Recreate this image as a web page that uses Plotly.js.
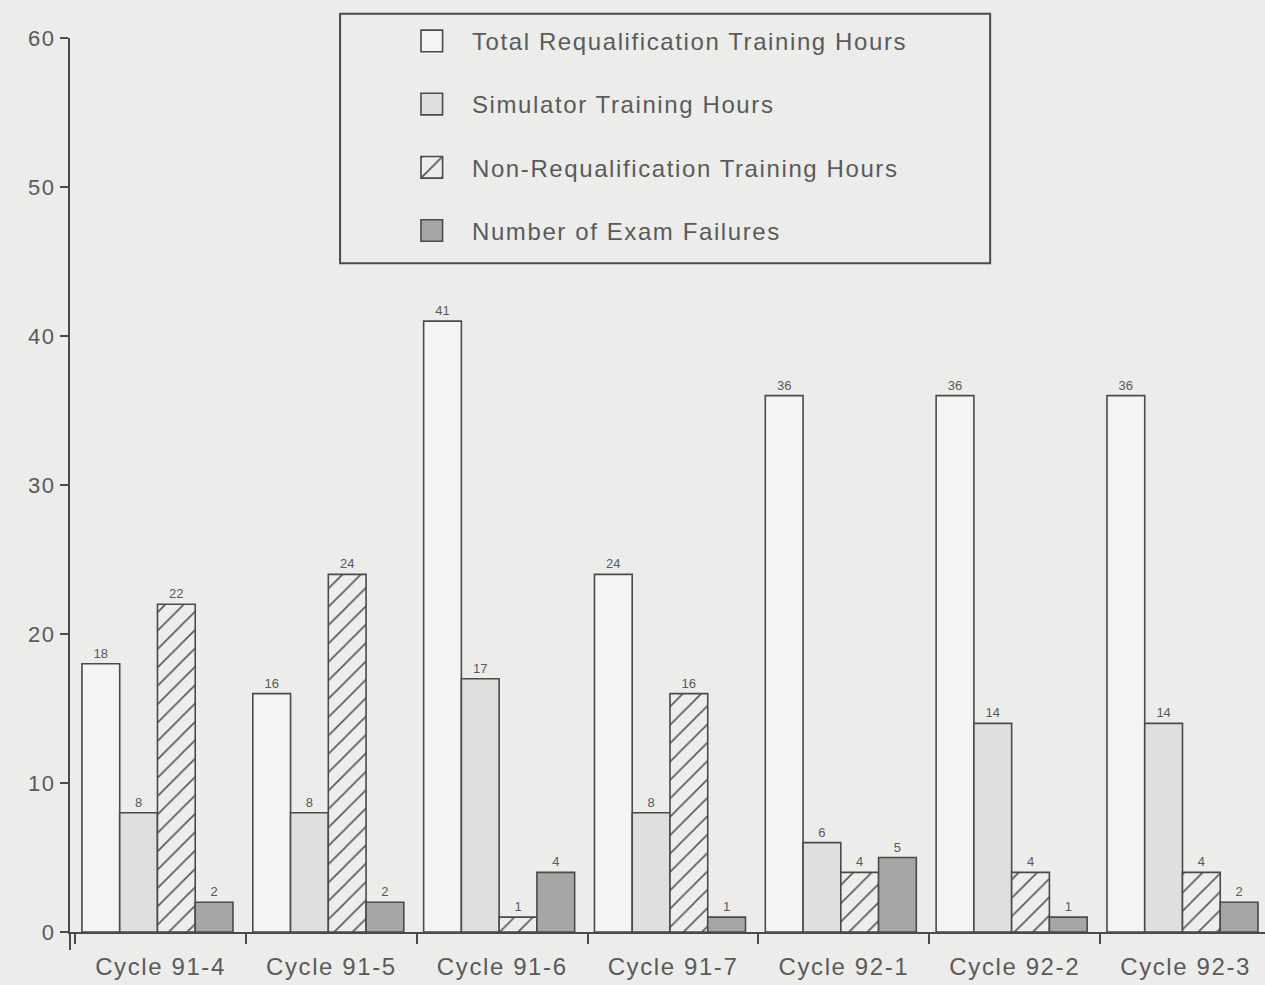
<!DOCTYPE html>
<html>
<head>
<meta charset="utf-8">
<script src="https://cdn.plot.ly/plotly-3.0.1.min.js"></script>
<style>
html,body{margin:0;padding:0;background:#ececea;}
.legendtext, .xtick text, .ytick text { letter-spacing: 1.6px; }
.legend .legendpoints { transform: translate(-34px, 0) scale(1.8); }
.legend .legendpoints path { vector-effect: non-scaling-stroke; }
</style>
</head>
<body>
<div id="chart" style="width:1265px;height:985px;"></div>
<script>
const categories = ["Cycle 91-4","Cycle 91-5","Cycle 91-6","Cycle 91-7","Cycle 92-1","Cycle 92-2","Cycle 92-3"];
const totalHours = [18, 16, 41, 24, 36, 36, 36];
const simulatorHours = [8, 8, 17, 8, 6, 14, 14];
const nonRequalHours = [22, 24, 1, 16, 4, 4, 4];
const examFailures = [2, 2, 4, 1, 5, 1, 2];
const seriesNames = ["Total Requalification Training Hours","Simulator Training Hours","Non-Requalification Training Hours","Number of Exam Failures"];
const yTicks = [0, 10, 20, 30, 40, 50, 60];

const bg = "#ececea";
const edge = "#4a4a4a";
const txt = "#5a5a5a";
const fontFam = "Liberation Sans, Arial, Helvetica, sans-serif";
const barW = 0.221;
const groupStart = -0.46;

function barTrace(vals, name, idx, fill, pattern) {
  const t = {
    type: "bar", x: categories, y: vals, name: name,
    legendgroup: "g" + idx,
    width: barW, offset: groupStart + idx * barW,
    text: vals.map(String), textposition: "outside",
    textfont: {size: 13, color: txt, family: fontFam},
    cliponaxis: false,
    marker: {color: fill, line: {color: edge, width: 1.6}},
    hoverinfo: "x+y+name"
  };
  if (pattern) t.marker.pattern = pattern;
  return t;
}

const data = [
  barTrace(totalHours, seriesNames[0], 0, "#f4f4f2"),
  barTrace(simulatorHours, seriesNames[1], 1, "#dfdfdd"),
  barTrace(nonRequalHours, seriesNames[2], 2, "#ededeb", {shape: "/", fgcolor: "#555", bgcolor: "#ededeb", size: 13, solidity: 0.12}),
  barTrace(examFailures, seriesNames[3], 3, "#a6a6a4")
];

const layout = {
  width: 1265, height: 985,
  paper_bgcolor: bg, plot_bgcolor: bg,
  font: {family: fontFam, color: txt},
  margin: {l: 70, r: 0, t: 38, b: 53},
  barmode: "group",
  showlegend: true,
  legend: {
    x: 0.2845, y: 1.0215, xanchor: "left", yanchor: "top",
    bgcolor: "rgba(0,0,0,0)", borderwidth: 0,
    traceorder: "grouped", tracegroupgap: 29,
    itemwidth: 52,
    font: {size: 24, color: txt, family: fontFam},
    itemclick: false
  },
  xaxis: {
    range: [-0.53, 6.465], type: "category",
    showgrid: false, zeroline: false,
    showline: true, linecolor: edge, linewidth: 2,
    ticks: "outside", tickson: "boundaries", ticklen: 10, tickcolor: edge, tickwidth: 2,
    ticklabelstandoff: 12,
    tickfont: {size: 24, color: txt, family: fontFam},
    fixedrange: true
  },
  yaxis: {
    range: [0, 60], tickvals: yTicks, ticktext: yTicks.map(String),
    showgrid: false, zeroline: false,
    showline: true, linecolor: edge, linewidth: 2,
    ticks: "outside", ticklen: 8, tickcolor: edge, tickwidth: 2,
    tickfont: {size: 22, color: txt, family: fontFam},
    fixedrange: true
  },
  shapes: [
    {type: "rect", xref: "paper", yref: "paper", x0: 0.226, x1: 0.770, y0: 0.748, y1: 1.027,
     line: {color: edge, width: 2}, fillcolor: "rgba(0,0,0,0)", layer: "below"},
    {type: "line", xref: "x domain", yref: "paper", x0: 0, x1: 0, y0: 0, y1: -0.02,
     line: {color: edge, width: 2}}
  ]
};

Plotly.newPlot("chart", data, layout, {displayModeBar: false, staticPlot: true});
</script>
</body>
</html>
